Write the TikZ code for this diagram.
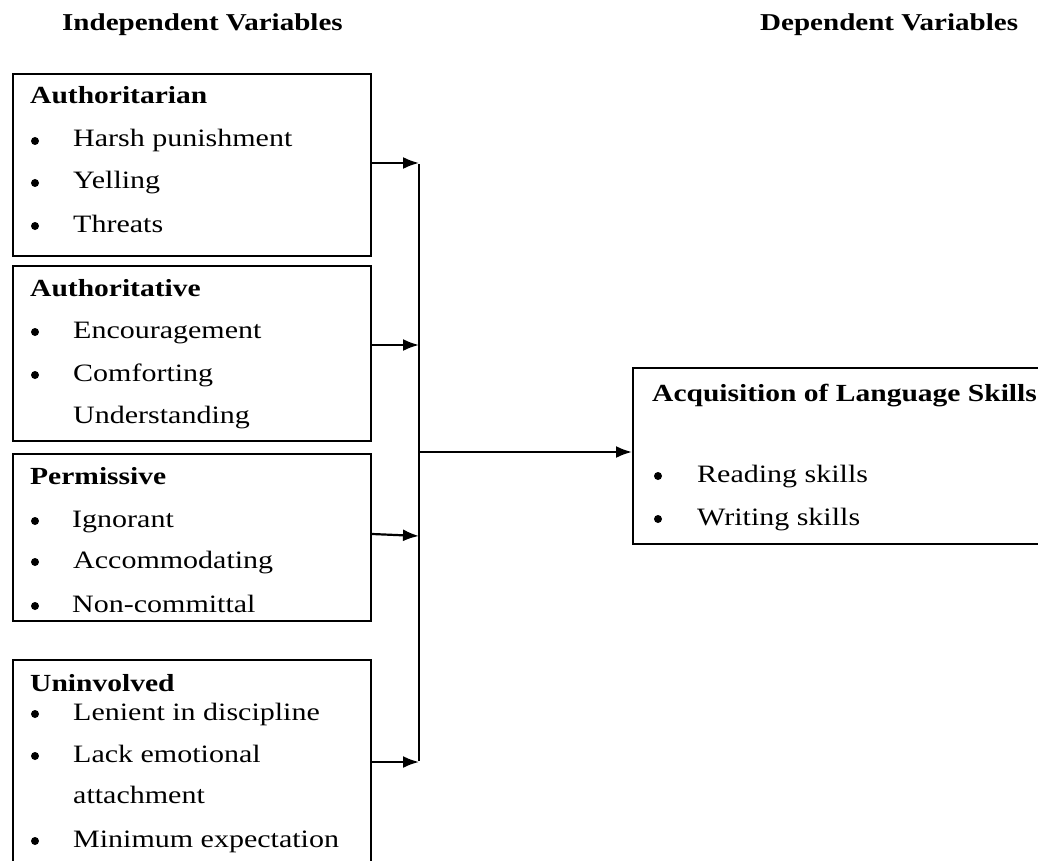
\documentclass[tikz,border=0pt]{standalone}
\usepackage{fontspec}
\setmainfont[FakeStretch=1.2]{Liberation Serif}
\usetikzlibrary{arrows.meta}
\begin{document}
\begin{tikzpicture}[x=1pt,y=-1pt,
  box/.style={draw, line width=2.2pt, rectangle, anchor=north west, inner sep=0pt},
  txt/.style={anchor=base west, inner sep=0pt, font=\fontsize{25}{30}\selectfont},
  ttl/.style={txt, font=\fontsize{24.6}{30}\selectfont\bfseries},
  hd/.style={anchor=base west, inner sep=0pt, font=\fontsize{24.2}{30}\selectfont\bfseries},
  bul/.style={circle, fill, inner sep=0pt, minimum size=8pt, yshift=6pt},
  conn/.style={line width=2.2pt},
  arr/.style={line width=2.2pt, -{Latex[length=16pt,width=12pt]}}]
\useasboundingbox (0,0) rectangle (1038,861);

% headings
\node[hd] (hi) at (62,31) {Independent Variables};
\node[hd] (hdp) at (760,31) {Dependent Variables};

% boxes
\node[box, minimum width=358pt, minimum height=182pt] (b1) at (12,73) {};
\node[box, minimum width=358pt, minimum height=175pt] (b2) at (12,265) {};
\node[box, minimum width=358pt, minimum height=167pt] (b3) at (12,453) {};
\node[box, minimum width=358pt, minimum height=240pt] (b4) at (12,659) {};
\node[box, minimum width=420pt, minimum height=176pt] (rb) at (632,367) {};

% box 1
\node[ttl] (t1) at (30,104) {Authoritarian};
\node[bul] (u11) at (35,147) {};
\node[txt] (i11) at (73,147) {Harsh punishment};
\node[bul] (u12) at (35,189) {};
\node[txt] (i12) at (73,189) {Yelling};
\node[bul] (u13) at (35,232) {};
\node[txt] (i13) at (73,232) {Threats};

% box 2
\node[ttl] (t2) at (30,296) {Authoritative};
\node[bul] (u21) at (35,338) {};
\node[txt] (i21) at (73,338) {Encouragement};
\node[bul] (u22) at (35,381) {};
\node[txt] (i22) at (73,381) {Comforting};
\node[txt] (i23) at (73,423) {Understanding};

% box 3
\node[ttl] (t3) at (30,484) {Permissive};
\node[bul] (u31) at (35,527) {};
\node[txt] (i31) at (72,527) {Ignorant};
\node[bul] (u32) at (35,568) {};
\node[txt] (i32) at (73,568) {Accommodating};
\node[bul] (u33) at (35,612) {};
\node[txt] (i33) at (72,612) {Non-committal};

% box 4
\node[ttl] (t4) at (30,691) {Uninvolved};
\node[bul] (u41) at (35,720) {};
\node[txt] (i41) at (73,720) {Lenient in discipline};
\node[bul] (u42) at (35,762) {};
\node[txt] (i42) at (73,762) {Lack emotional};
\node[txt] (i43) at (73,803) {attachment};
\node[bul] (u44) at (35,847) {};
\node[txt] (i44) at (73,847) {Minimum expectation};

% right box
\node[ttl] (tr) at (652,401) {Acquisition of Language Skills};
\node[bul] (ur1) at (658,482) {};
\node[txt] (ir1) at (697,482) {Reading skills};
\node[bul] (ur2) at (658,525) {};
\node[txt] (ir2) at (697,525) {Writing skills};

% connectors
\coordinate (j1) at (419,163);
\coordinate (j2) at (419,345);
\coordinate (j3) at (419,536);
\coordinate (j4) at (419,762);
\coordinate (jm) at (419,452);
\draw[conn] ([yshift=-1pt]j1) -- ([yshift=1pt]j4);
\draw[arr] (b1.east |- j1) -- (j1);
\draw[arr] (b2.east |- j2) -- (j2);
\draw[arr] ([yshift=2pt]b3.east |- j3) -- (j3);
\draw[arr] (b4.east |- j4) -- (j4);
\draw[arr] (jm) -- (rb.west |- jm);
\end{tikzpicture}
\end{document}
